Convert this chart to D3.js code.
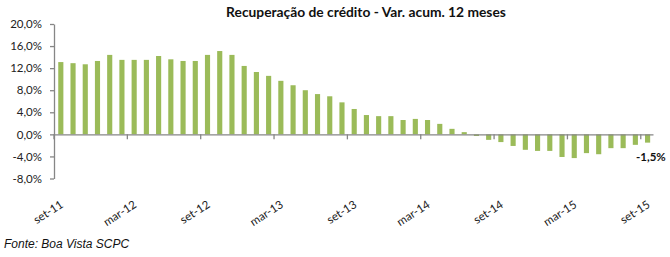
<!DOCTYPE html>
<html>
<head>
<meta charset="utf-8">
<script src="https://cdn.jsdelivr.net/npm/d3@7"></script>
<style>
  body { margin: 0; background: #fff; }
  svg { display: block; }
</style>
</head>
<body>
<svg id="chart"></svg>
<script>
// categorias mensais (set-11 .. set-15)
const categories = [
    'set-11', 'out-11', 'nov-11', 'dez-11', 'jan-12', 'fev-12',
    'mar-12', 'abr-12', 'mai-12', 'jun-12', 'jul-12', 'ago-12',
    'set-12', 'out-12', 'nov-12', 'dez-12', 'jan-13', 'fev-13',
    'mar-13', 'abr-13', 'mai-13', 'jun-13', 'jul-13', 'ago-13',
    'set-13', 'out-13', 'nov-13', 'dez-13', 'jan-14', 'fev-14',
    'mar-14', 'abr-14', 'mai-14', 'jun-14', 'jul-14', 'ago-14',
    'set-14', 'out-14', 'nov-14', 'dez-14', 'jan-15', 'fev-15',
    'mar-15', 'abr-15', 'mai-15', 'jun-15', 'jul-15', 'ago-15',
    'set-15',
];

// variação acumulada em 12 meses (%)
const values = [
    13.1, 12.9, 12.7, 13.3, 14.4, 13.5, 13.5, 13.5, 14.2, 13.6, 13.3, 13.3,
    14.4, 15.1, 14.4, 12.4, 11.3, 10.6, 9.7, 8.9, 8.0, 7.3, 6.9, 5.8,
    4.6, 3.5, 3.3, 3.3, 2.6, 2.8, 2.6, 1.9, 1.0, 0.4, -0.3, -1.0,
    -1.4, -2.1, -2.8, -3.0, -3.0, -4.1, -4.3, -3.4, -3.6, -2.5, -2.5, -1.9,
    -1.5,
];

const yTicks = [-8, -4, 0, 4, 8, 12, 16, 20];
const labelEvery = 6;

const title = 'Recuperação de crédito - Var. acum. 12 meses';
const source = 'Fonte: Boa Vista SCPC';

const width = 670;
const height = 257;
const plot = { left: 54, right: 653, top: 24, bottom: 178.5 };
const barColor = '#9BBB59';
const axisColor = '#868686';
const fmt = (v) => `${d3.format('.1f')(v).replace('.', ',').replace('\u2212', '-')}%`;

const svg = d3.select('#chart')
    .attr('width', width)
    .attr('height', height);

const x = d3.scaleBand()
    .domain(categories)
    .range([plot.left, plot.right])
    .padding(0);

const y = d3.scaleLinear()
    .domain([-8, 20])
    .range([plot.bottom, plot.top]);

const barWidth = x.bandwidth() * 0.42;

// barras
svg.append('g')
    .selectAll('rect')
    .data(values)
    .join('rect')
    .attr('x', (d, i) => x(categories[i]) + (x.bandwidth() - barWidth) / 2 + 0.7)
    .attr('y', (d) => y(Math.max(0, d)))
    .attr('width', barWidth)
    .attr('height', (d) => Math.abs(y(d) - y(0)))
    .attr('fill', barColor);

// eixo Y
const yAxis = svg.append('g')
    .attr('transform', `translate(${plot.left},0)`)
    .call(d3.axisLeft(y)
        .tickValues(yTicks)
        .tickFormat(fmt)
        .tickSize(4)
        .tickSizeOuter(0)
        .tickPadding(8));
yAxis.select('.domain').attr('stroke', axisColor).attr('stroke-width', 1.3);
yAxis.selectAll('.tick line').attr('stroke', axisColor).attr('stroke-width', 1.3);
yAxis.selectAll('.tick text')
    .attr('font-family', 'Lato, sans-serif')
    .attr('font-size', 11.5)
    .attr('fill', '#222');

// eixo X (na linha do zero)
const xTickCats = categories.filter((c, i) => i % labelEvery === 0);
const xAxis = svg.append('g')
    .attr('transform', `translate(0,${y(0)})`)
    .call(d3.axisBottom(x)
        .tickValues(xTickCats)
        .tickSize(5)
        .tickSizeOuter(0));
xAxis.select('.domain').attr('stroke', axisColor).attr('stroke-width', 1.3);
xAxis.selectAll('.tick line')
    .attr('stroke', axisColor)
    .attr('stroke-width', 1.3)
    .attr('x1', -x.bandwidth() / 2)
    .attr('x2', -x.bandwidth() / 2);
xAxis.selectAll('.tick text')
    .attr('font-family', 'Lato, sans-serif')
    .attr('font-size', 11.5)
    .attr('fill', '#222')
    .attr('text-anchor', 'end')
    .attr('y', 0)
    .attr('dy', 0)
    .attr('transform', `translate(4,${y(-8) - y(0) + 28}) rotate(-33)`);

// rótulo do último valor
const last = values.length - 1;
svg.append('text')
    .attr('x', x(categories[last]) + x.bandwidth() / 2 + 4)
    .attr('y', y(values[last]) + 18)
    .attr('text-anchor', 'middle')
    .attr('font-family', 'Lato, sans-serif')
    .attr('font-weight', 'bold')
    .attr('font-size', 11.5)
    .attr('fill', '#111')
    .text(fmt(values[last]));

// título
svg.append('text')
    .attr('x', 366)
    .attr('y', 17)
    .attr('text-anchor', 'middle')
    .attr('font-family', 'Lato, sans-serif')
    .attr('font-weight', 'bold')
    .attr('font-size', 13.8)
    .attr('fill', '#111')
    .text(title);

// fonte
svg.append('text')
    .attr('x', 4)
    .attr('y', 248)
    .attr('font-family', '"Liberation Sans", Arial, sans-serif')
    .attr('font-style', 'italic')
    .attr('font-size', 12)
    .attr('fill', '#111')
    .text(source);
</script>
</body>
</html>
